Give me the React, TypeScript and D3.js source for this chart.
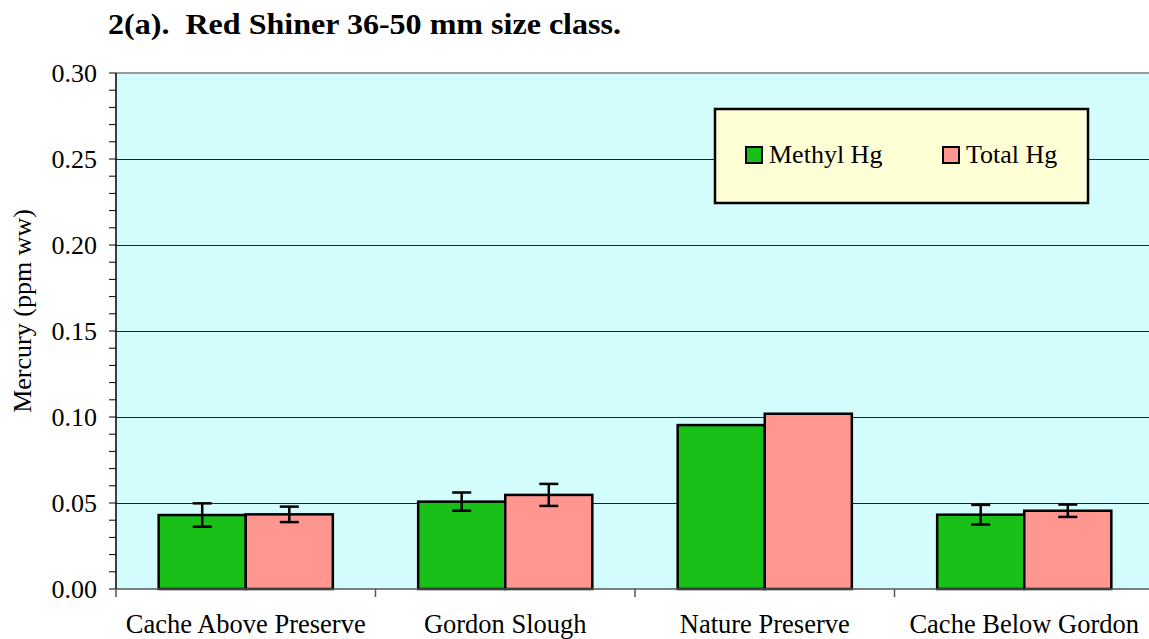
import { useEffect } from 'react';
import * as d3 from 'd3';

const sites = ['Cache Above Preserve', 'Gordon Slough', 'Nature Preserve', 'Cache Below Gordon'];
const seriesNames = ['Methyl Hg', 'Total Hg'];
const seriesColors = ['#18c018', '#ff9690'];
const methylHg = [0.043, 0.0508, 0.0953, 0.0432];
const methylErr = [0.0068, 0.0053, null, 0.0057];
const totalHg = [0.0434, 0.0547, 0.1019, 0.0455];
const totalErr = [0.0045, 0.0064, null, 0.0036];
const yTicks = [0, 0.05, 0.1, 0.15, 0.2, 0.25, 0.3];

const W = 1149;
const H = 639;
const plot = { left: 116, top: 73, right: 1154, bottom: 589 };
const font = '"Liberation Serif", "Times New Roman", serif';

const App = () => {
  useEffect(() => {
    document.body.style.margin = '0';
  }, []);

  const x = d3.scaleBand<string>().domain(sites).range([plot.left, plot.right]).paddingInner(0).paddingOuter(0);
  const inner = d3.scaleBand<string>().domain(seriesNames).range([0, x.bandwidth()]).paddingOuter(0.49).paddingInner(0);
  const y = d3.scaleLinear().domain([0, 0.3]).range([plot.bottom, plot.top]);
  const minor = d3.range(0, 0.3001, 0.01);

  const series = [
    { name: seriesNames[0], values: methylHg, err: methylErr, color: seriesColors[0] },
    { name: seriesNames[1], values: totalHg, err: totalErr, color: seriesColors[1] },
  ];

  return (
    <svg width={W} height={H} style={{ display: 'block', fontFamily: font }}>
      <rect x={0} y={0} width={W} height={H} fill="#ffffff" />
      <text x={108} y={34} fontSize={29} fontWeight="bold" fill="#000" textLength={513} lengthAdjust="spacingAndGlyphs">
        2(a).{'\u00a0'} Red Shiner 36-50 mm size class.
      </text>

      {/* plot background */}
      <rect x={plot.left} y={plot.top} width={plot.right - plot.left} height={plot.bottom - plot.top} fill="#d3fcfd" />
      <line x1={plot.left} x2={plot.right} y1={plot.top} y2={plot.top} stroke="#999" strokeWidth={2} />

      {/* gridlines */}
      {yTicks.slice(1, -1).map((t) => (
        <line key={t} x1={plot.left} x2={plot.right} y1={Math.round(y(t)) + 0.5} y2={Math.round(y(t)) + 0.5} stroke="#222" strokeWidth={1} />
      ))}

      {/* bars */}
      {series.map((s) =>
        sites.map((site, i) => {
          const bx = x(site)! + inner(s.name)!;
          const by = y(s.values[i]);
          return (
            <rect key={s.name + site} x={bx} y={by} width={inner.bandwidth()} height={plot.bottom - by}
              fill={s.color} stroke="#000" strokeWidth={2.5} />
          );
        })
      )}

      {/* error bars */}
      {series.map((s) =>
        sites.map((site, i) => {
          const e = s.err[i];
          if (e == null) return null;
          const cx = x(site)! + inner(s.name)! + inner.bandwidth() / 2;
          const y1 = y(s.values[i] + e);
          const y2 = y(s.values[i] - e);
          return (
            <g key={'e' + s.name + site} stroke="#000" strokeWidth={2.5}>
              <line x1={cx} x2={cx} y1={y1} y2={y2} />
              <line x1={cx - 9.5} x2={cx + 9.5} y1={y1} y2={y1} />
              <line x1={cx - 9.5} x2={cx + 9.5} y1={y2} y2={y2} />
            </g>
          );
        })
      )}

      {/* y axis */}
      <line x1={plot.left} x2={plot.left} y1={plot.top} y2={plot.bottom} stroke="#000" strokeWidth={1.5} />
      {minor.map((t) => (
        <line key={'m' + t} x1={plot.left - 7} x2={plot.left} y1={y(t)} y2={y(t)} stroke="#000" strokeWidth={1} />
      ))}
      {yTicks.map((t) => (
        <text key={'l' + t} x={plot.left - 19} y={y(t) + 9} textAnchor="end" fontSize={26} fill="#000">
          {d3.format('.2f')(t)}
        </text>
      ))}
      <text transform={`translate(31,${(plot.top + plot.bottom) / 2 - 20}) rotate(-90)`} textAnchor="middle" fontSize={26} fill="#000">
        Mercury (ppm ww)
      </text>

      {/* x axis */}
      <line x1={plot.left} x2={plot.right} y1={plot.bottom} y2={plot.bottom} stroke="#555" strokeWidth={1.5} />
      {sites.map((site) => (
        <line key={'t' + site} x1={x(site)!} x2={x(site)!} y1={plot.bottom} y2={plot.bottom + 8} stroke="#555" strokeWidth={1.5} />
      ))}
      {sites.map((site) => (
        <text key={'c' + site} x={x(site)! + x.bandwidth() / 2} y={633} textAnchor="middle" fontSize={26.5} fill="#000">
          {site}
        </text>
      ))}

      {/* legend */}
      <rect x={715} y={109} width={373} height={94} fill="#ffffd5" stroke="#000" strokeWidth={2.5} />
      {series.map((s, i) => (
        <g key={'lg' + s.name} transform={`translate(${746 + i * 197},147)`}>
          <rect x={0} y={0} width={16} height={16} fill={s.color} stroke="#000" strokeWidth={2} />
          <text x={23} y={16} fontSize={26} fill="#000">{s.name}</text>
        </g>
      ))}
    </svg>
  );
};

export default App;
